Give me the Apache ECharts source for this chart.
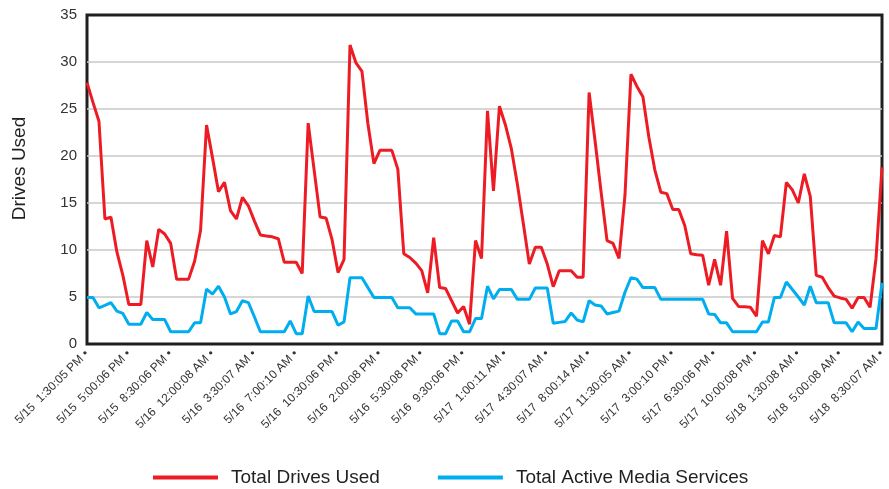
<!DOCTYPE html>
<html>
<head>
<meta charset="utf-8">
<script src="https://cdn.jsdelivr.net/npm/echarts@6/dist/echarts.min.js"></script>
<style>
html,body{margin:0;padding:0;background:#fff;}
#chart{width:889px;height:489px;}
</style>
</head>
<body>
<div id="chart"></div>
<script>
// Tick labels shown every 7th sample
const tickLabels = ['5/15  1:30:05 PM','5/15  5:00:06 PM','5/15  8:30:06 PM','5/16  12:00:08 AM','5/16  3:30:07 AM','5/16  7:00:10 AM','5/16  10:30:06 PM','5/16  2:00:08 PM','5/16  5:30:08 PM','5/16  9:30:06 PM','5/17  1:00:11 AM','5/17  4:30:07 AM','5/17  8:00:14 AM','5/17  11:30:05 AM','5/17  3:00:10 PM','5/17  6:30:06 PM','5/17  10:00:08 PM','5/18  1:30:08 AM','5/18  5:00:08 AM','5/18  8:30:07 AM'];
const samplesPerLabel = 7;

const totalDrivesUsed = [27.8,25.7,23.7,13.3,13.5,9.8,7.3,4.2,4.2,4.2,
11.0,8.2,12.2,11.7,10.7,6.9,6.9,6.9,8.8,12.1,
23.3,19.8,16.2,17.2,14.2,13.3,15.6,14.7,13.1,11.6,
11.5,11.4,11.2,8.7,8.7,8.7,7.5,23.5,18.5,13.5,
13.4,11.1,7.6,9.0,31.8,29.9,29.0,23.4,19.2,20.6,
20.6,20.6,18.6,9.6,9.2,8.6,7.8,5.45,11.3,6.0,
5.9,4.6,3.3,4.0,2.1,11.0,9.1,24.8,16.3,25.3,
23.3,20.75,17.0,12.8,8.5,10.3,10.3,8.5,6.1,7.8,
7.8,7.8,7.1,7.1,26.75,21.6,16.2,11.0,10.7,9.1,
15.8,28.7,27.4,26.3,22.0,18.5,16.15,16.0,14.3,14.3,
12.6,9.6,9.5,9.45,6.25,9.0,6.25,12.0,4.85,4.0,
3.95,3.9,2.95,11.0,9.6,11.55,11.4,17.2,16.4,15.0,
18.1,15.7,7.3,7.1,6.0,5.1,4.9,4.75,3.8,4.95,
4.95,3.9,9.1,18.8];

const totalActiveMediaServices = [4.95,4.95,3.85,4.1,4.4,3.5,3.25,2.1,2.1,2.1,
3.35,2.6,2.6,2.6,1.3,1.3,1.3,1.3,2.25,2.25,
5.85,5.3,6.15,5.0,3.2,3.45,4.6,4.4,2.9,1.3,
1.3,1.3,1.3,1.3,2.45,1.1,1.1,5.1,3.45,3.45,
3.45,3.45,2.0,2.35,7.05,7.05,7.05,6.0,4.95,4.95,
4.95,4.95,3.85,3.85,3.85,3.2,3.2,3.2,3.2,1.1,
1.1,2.45,2.45,1.3,1.3,2.7,2.7,6.15,4.8,5.8,
5.8,5.8,4.75,4.75,4.75,5.95,5.95,5.95,2.2,2.3,
2.4,3.3,2.55,2.35,4.6,4.15,4.05,3.2,3.35,3.5,
5.5,7.05,6.9,6.0,6.0,6.0,4.75,4.75,4.75,4.75,
4.75,4.75,4.75,4.75,3.2,3.15,2.25,2.25,1.3,1.3,
1.3,1.3,1.3,2.35,2.35,4.95,4.95,6.6,5.8,5.0,
4.15,6.15,4.4,4.4,4.4,2.25,2.25,2.25,1.3,2.35,
1.65,1.65,1.65,6.5];

const seriesNames = ['Total Drives Used','Total Active Media Services'];
const yAxisName = 'Drives Used';

// unique category keys; only every 7th carries a visible label
const categories = totalDrivesUsed.map((_, i) =>
  i % samplesPerLabel === 0 ? tickLabels[i / samplesPerLabel] : tickLabels[Math.floor(i / samplesPerLabel)] + '#' + (i % samplesPerLabel));

const FONT = 'Liberation Sans';
const chart = echarts.init(document.getElementById('chart'), null, {renderer: 'canvas'});
chart.setOption({
  backgroundColor: '#ffffff',
  animation: false,
  textStyle: {fontFamily: FONT},
  grid: {left: 87, right: 7, top: 15, bottom: 145, show: true, borderColor: '#231F20', borderWidth: 3, backgroundColor: 'transparent'},
  legend: {
    left: 148, top: 463,
    itemWidth: 65, itemHeight: 4, itemGap: 58,
    icon: 'rect',
    textStyle: {fontSize: 19, color: '#231F20', fontFamily: FONT, padding: [0, 0, 0, 8]},
    data: seriesNames
  },
  xAxis: {
    type: 'category',
    data: categories,
    boundaryGap: false,
    axisLine: {show: false},
    axisTick: {show: false},
    splitLine: {show: false},
    axisLabel: {
      interval: samplesPerLabel - 1,
      rotate: 45,
      margin: 8,
      fontSize: 12,
      color: '#333',
      fontFamily: FONT,
      formatter: v => v.indexOf('#') >= 0 ? '' : v + ' •'
    }
  },
  yAxis: {
    type: 'value',
    min: 0, max: 35, interval: 5,
    name: yAxisName,
    nameLocation: 'middle',
    nameGap: 58,
    nameTextStyle: {fontSize: 19, color: '#231F20', fontFamily: FONT, padding: [0, 0, 0, 22]},
    axisLine: {show: false},
    axisTick: {show: false},
    axisLabel: {fontSize: 15, color: '#333', margin: 10, fontFamily: FONT},
    splitLine: {showMinLine: false, showMaxLine: false, lineStyle: {color: '#C8C8C8', width: 1.5}}
  },
  series: [
    {name: seriesNames[0], type: 'line', data: totalDrivesUsed, symbol: 'none', showSymbol: false,
     lineStyle: {width: 3, color: '#ED1C24'}, itemStyle: {color: '#ED1C24'}, z: 3},
    {name: seriesNames[1], type: 'line', data: totalActiveMediaServices, symbol: 'none', showSymbol: false,
     lineStyle: {width: 3, color: '#00AEEF'}, itemStyle: {color: '#00AEEF'}, z: 2}
  ]
});
</script>
</body>
</html>
